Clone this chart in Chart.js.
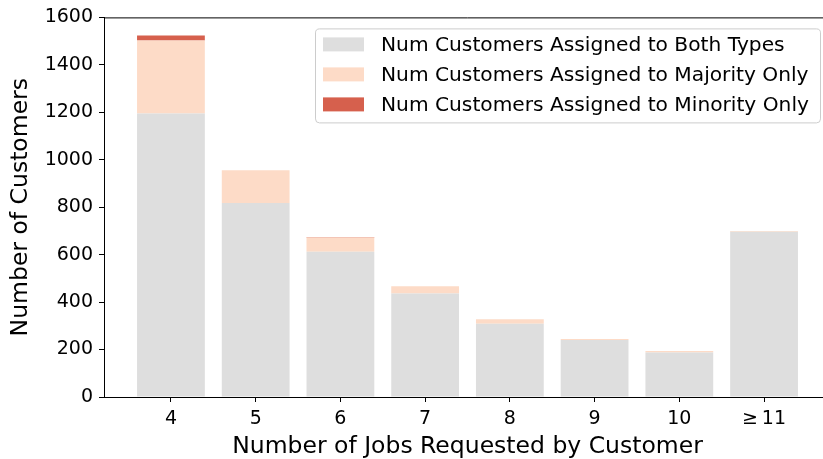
<!DOCTYPE html>
<html>
<head>
<meta charset="utf-8">
<script src="https://cdn.jsdelivr.net/npm/chart.js@4"></script>
<style>
  html, body { margin: 0; padding: 0; background: #fff; overflow: hidden; }
  canvas { display: block; }
</style>
</head>
<body>
<canvas id="chart" width="833" height="459"></canvas>
<script>
// data
const categories = ["4", "5", "6", "7", "8", "9", "10", "\u2265\u200911"];
const bothTypes = [1195, 818, 612, 436, 309, 240, 188, 696];
const majorityOnly = [308, 138, 60, 31, 19, 4, 6, 4];
const minorityOnly = [21, 0, 2, 0, 0, 0, 0, 0];
const yTicks = [0, 200, 400, 600, 800, 1000, 1200, 1400, 1600];

const FONT = "'DejaVu Sans', sans-serif";

const toPoints = (arr) => arr.map((v, i) => ({ x: i, y: v }));

// top/right spines
const frame = {
  id: "frame",
  afterDraw(chart) {
    const { ctx, chartArea: a } = chart;
    ctx.save();
    ctx.strokeStyle = "#000";
    ctx.lineWidth = 1;
    ctx.beginPath();
    ctx.moveTo(a.left, a.top + 0.5);
    ctx.lineTo(a.right, a.top + 0.5);
    ctx.lineTo(a.right, a.bottom);
    ctx.stroke();
    ctx.restore();
  },
};

// matplotlib-style legend in the upper right
const legendBox = {
  id: "legendBox",
  afterDraw(chart) {
    const { ctx, chartArea: a } = chart;
    const sets = chart.data.datasets;
    const w = 505, h = 94, rowH = 30;
    const x = a.right - 11 - w;
    const y = a.top + 11;
    ctx.save();
    ctx.beginPath();
    ctx.roundRect(x + 0.5, y + 0.5, w, h, 4);
    ctx.fillStyle = "rgba(255,255,255,0.8)";
    ctx.fill();
    ctx.strokeStyle = "#cccccc";
    ctx.lineWidth = 1;
    ctx.stroke();
    ctx.font = "20.2px " + FONT;
    ctx.textBaseline = "middle";
    sets.forEach((ds, i) => {
      const cy = y + 16 + i * rowH;
      ctx.fillStyle = ds.backgroundColor;
      ctx.fillRect(x + 8, cy - 7, 41, 14);
      ctx.fillStyle = "#000";
      ctx.fillText(ds.label, x + 66, cy + 1);
    });
    ctx.restore();
  },
};

new Chart(document.getElementById("chart"), {
  type: "bar",
  data: {
    datasets: [
      { label: "Num Customers Assigned to Both Types", data: toPoints(bothTypes), backgroundColor: "#dedede" },
      { label: "Num Customers Assigned to Majority Only", data: toPoints(majorityOnly), backgroundColor: "#fddbc7" },
      { label: "Num Customers Assigned to Minority Only", data: toPoints(minorityOnly), backgroundColor: "#d6604d" },
    ],
  },
  options: {
    responsive: false,
    animation: false,
    layout: { padding: { top: 17, right: 2, left: 0, bottom: 0 } },
    datasets: { bar: { barPercentage: 0.8, categoryPercentage: 1, borderWidth: 0 } },
    plugins: { legend: { display: false }, tooltip: { enabled: false } },
    scales: {
      x: {
        type: "linear",
        stacked: true,
        offset: false,
        min: -0.79,
        max: 7.79,
        afterBuildTicks: (scale) => { scale.ticks = categories.map((c, i) => ({ value: i })); },
        afterFit: (scale) => { scale.height = 62; },
        ticks: {
          autoSkip: false,
          maxRotation: 0,
          padding: 6,
          color: "#000",
          font: { family: FONT, size: 19 },
          callback: (v) => categories[v],
        },
        grid: { offset: false, drawOnChartArea: false, drawTicks: true, tickLength: 5, color: "#000" },
        border: { display: true, color: "#000", width: 1 },
        title: {
          display: true,
          text: "Number of Jobs Requested by Customer",
          color: "#000",
          font: { family: FONT, size: 23.5, lineHeight: 1 },
          padding: { top: 0, bottom: 0 },
        },
      },
      y: {
        stacked: true,
        min: 0,
        max: 1600,
        afterBuildTicks: (scale) => { scale.ticks = yTicks.map((v) => ({ value: v })); },
        afterFit: (scale) => { scale.width = 104; },
        ticks: {
          padding: 6,
          color: "#000",
          font: { family: FONT, size: 19 },
          callback: (v) => String(v),
        },
        grid: { drawOnChartArea: false, drawTicks: true, tickLength: 5, color: "#000" },
        border: { display: true, color: "#000", width: 1 },
        title: {
          display: true,
          text: "Number of Customers",
          color: "#000",
          font: { family: FONT, size: 23.5, lineHeight: 1 },
          padding: { top: 9, bottom: 0 },
        },
      },
    },
  },
  plugins: [frame, legendBox],
});
</script>
</body>
</html>
